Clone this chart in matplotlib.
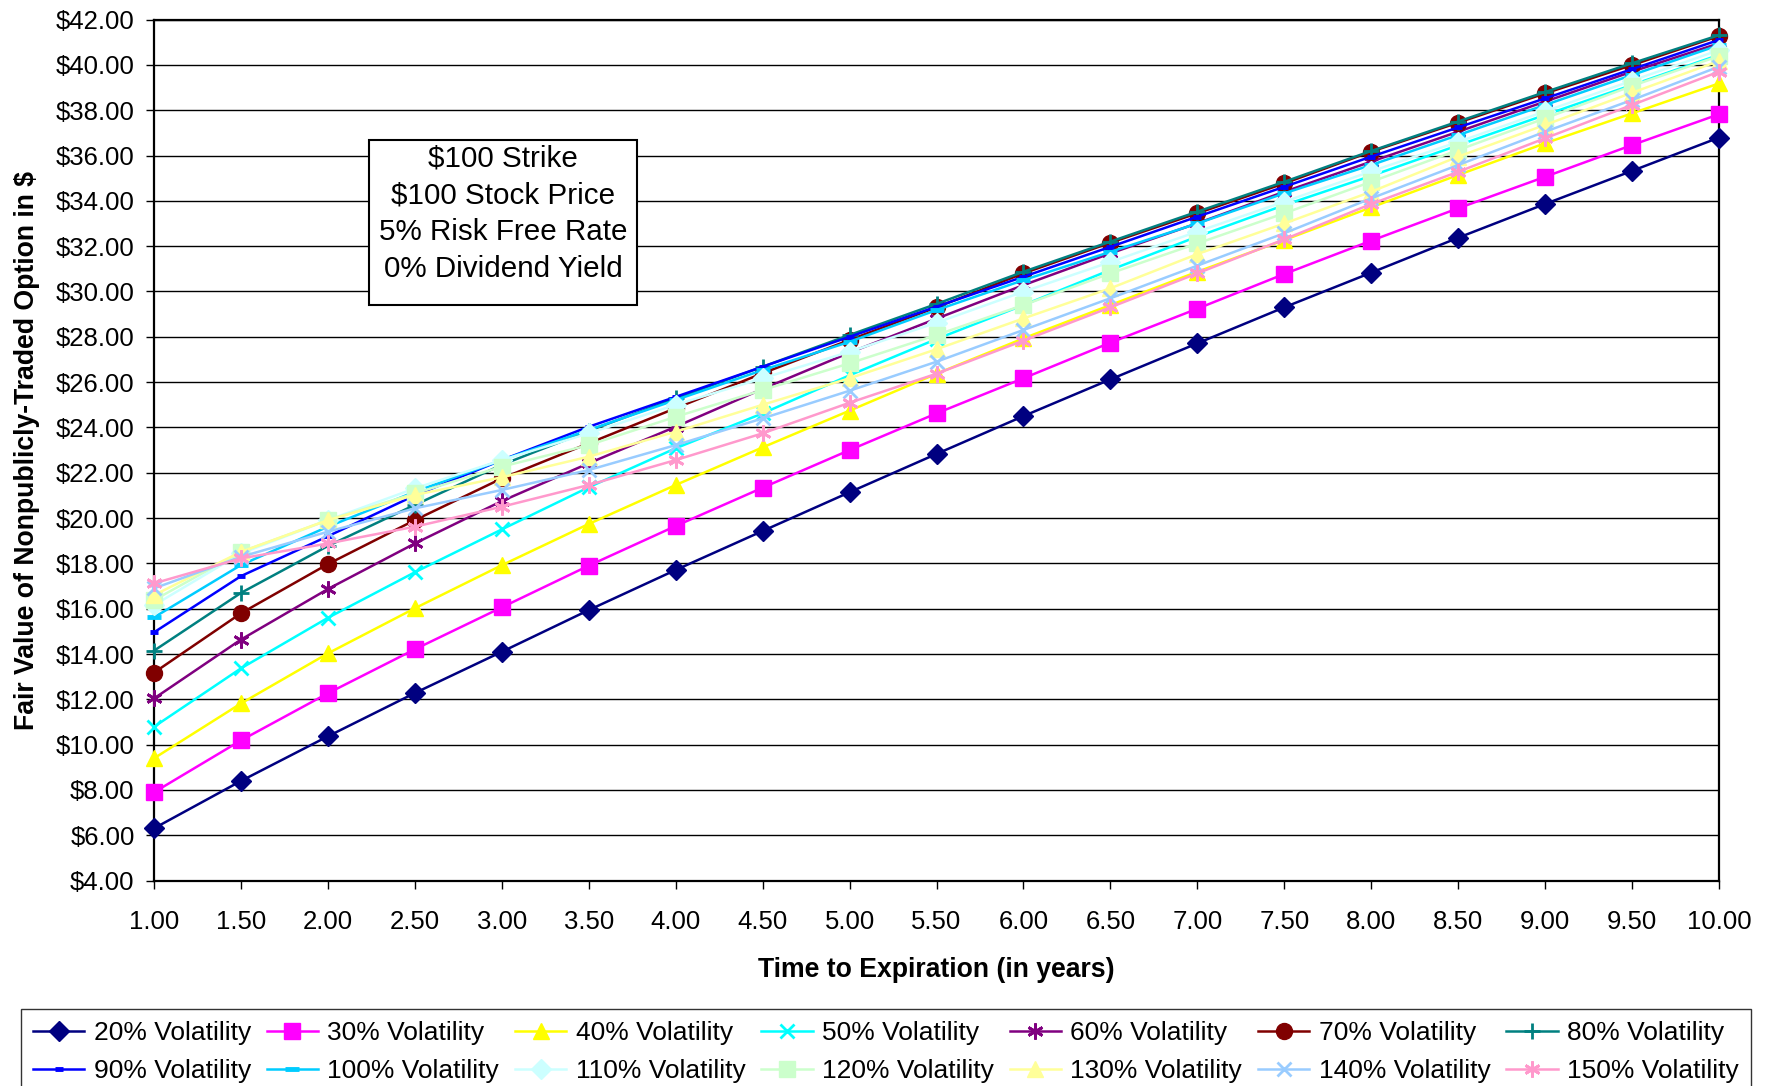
import matplotlib
matplotlib.use("Agg")
import matplotlib.pyplot as plt
from matplotlib.patches import Rectangle
from matplotlib.ticker import FuncFormatter

plt.rcParams['font.family'] = ['Liberation Sans', 'DejaVu Sans']

years = [1.0, 1.5, 2.0, 2.5, 3.0, 3.5, 4.0, 4.5, 5.0, 5.5,
         6.0, 6.5, 7.0, 7.5, 8.0, 8.5, 9.0, 9.5, 10.0]

vol20 = [6.31, 8.40, 10.37, 12.28, 14.10, 15.94, 17.71, 19.43, 21.14, 22.83,
         24.50, 26.12, 27.71, 29.30, 30.83, 32.37, 33.86, 35.32, 36.79]
vol30 = [7.90, 10.19, 12.27, 14.21, 16.06, 17.90, 19.65, 21.34, 23.00, 24.62,
         26.17, 27.74, 29.24, 30.77, 32.24, 33.67, 35.06, 36.46, 37.82]
vol40 = [9.40, 11.82, 14.03, 16.02, 17.92, 19.74, 21.46, 23.12, 24.74, 26.37,
         27.93, 29.40, 30.87, 32.27, 33.71, 35.14, 36.54, 37.86, 39.18]
vol50 = [10.79, 13.37, 15.60, 17.61, 19.50, 21.36, 23.08, 24.62, 26.30, 27.90,
         29.40, 30.95, 32.42, 33.81, 35.10, 36.45, 37.79, 39.11, 40.44]
vol60 = [12.04, 14.64, 16.87, 18.88, 20.75, 22.42, 24.03, 25.70, 27.30, 28.80,
         30.28, 31.68, 33.01, 34.40, 35.73, 37.05, 38.38, 39.70, 40.95]
vol70 = [13.18, 15.80, 17.97, 19.91, 21.75, 23.30, 24.85, 26.39, 27.86, 29.30,
         30.80, 32.15, 33.45, 34.77, 36.17, 37.45, 38.74, 39.99, 41.27]
vol80 = [14.15, 16.70, 18.77, 20.58, 22.35, 23.85, 25.28, 26.68, 28.08, 29.45,
         30.87, 32.20, 33.52, 34.84, 36.20, 37.50, 38.80, 40.07, 41.31]
vol90 = [14.96, 17.44, 19.20, 21.00, 22.56, 24.03, 25.35, 26.68, 28.00, 29.33,
         30.65, 31.97, 33.30, 34.62, 35.95, 37.24, 38.52, 39.81, 41.10]
vol100 = [15.62, 17.93, 19.62, 21.16, 22.56, 23.89, 25.21, 26.53, 27.78, 29.18,
          30.50, 31.75, 33.00, 34.33, 35.58, 36.90, 38.23, 39.55, 40.87]
vol110 = [16.16, 18.44, 19.91, 21.31, 22.56, 23.74, 25.00, 26.17, 27.34, 28.62,
          29.99, 31.30, 32.64, 33.96, 35.30, 36.60, 37.95, 39.30, 40.65]
vol120 = [16.38, 18.51, 19.91, 21.09, 22.27, 23.22, 24.47, 25.65, 26.83, 28.08,
          29.40, 30.80, 32.12, 33.45, 34.84, 36.24, 37.64, 39.07, 40.39]
vol130 = [16.60, 18.51, 19.91, 21.02, 21.80, 22.71, 23.81, 25.00, 26.17, 27.45,
          28.81, 30.14, 31.65, 33.00, 34.40, 35.95, 37.35, 38.77, 40.17]
vol140 = [16.90, 18.29, 19.40, 20.43, 21.24, 22.12, 23.22, 24.40, 25.62, 26.90,
          28.30, 29.70, 31.14, 32.57, 34.11, 35.58, 37.05, 38.45, 39.92]
vol150 = [17.12, 18.22, 18.88, 19.62, 20.50, 21.46, 22.56, 23.74, 25.09, 26.37,
          27.83, 29.30, 30.80, 32.30, 33.86, 35.28, 36.76, 38.23, 39.70]

labels = ["20% Volatility", "30% Volatility", "40% Volatility", "50% Volatility",
          "60% Volatility", "70% Volatility", "80% Volatility", "90% Volatility",
          "100% Volatility", "110% Volatility", "120% Volatility",
          "130% Volatility", "140% Volatility", "150% Volatility"]
series = [vol20, vol30, vol40, vol50, vol60, vol70, vol80, vol90,
          vol100, vol110, vol120, vol130, vol140, vol150]

notes = ["\\$100 Strike", "\\$100 Stock Price", "5% Risk Free Rate",
         "0% Dividend Yield"]

# excel-ish colour / marker per series
asterisk = (6, 2, 0)
styles = [
    dict(color="#000080", marker="D", ms=10.5),
    dict(color="#FF00FF", marker="s", ms=11),
    dict(color="#FFFF00", marker="^", ms=11.5),
    dict(color="#00FFFF", marker="x", ms=10.5, mew=2),
    dict(color="#800080", marker=asterisk, ms=11.5, mew=2),
    dict(color="#800000", marker="o", ms=11.5),
    dict(color="#008080", marker="+", ms=11.5, mew=2),
    dict(color="#0000FF", marker="_", ms=5.5, mew=3.5),
    dict(color="#00CCFF", marker="_", ms=9.5, mew=3.5),
    dict(color="#CCFFFF", marker="D", ms=10.5),
    dict(color="#CCFFCC", marker="s", ms=11),
    dict(color="#FFFF99", marker="^", ms=11.5),
    dict(color="#99CCFF", marker="x", ms=10.5, mew=2),
    dict(color="#FF99CC", marker=asterisk, ms=11.5, mew=2),
]

fig = plt.figure(figsize=(17.67, 10.86), dpi=100)
ax = fig.add_axes([0.0872, 0.1891, 0.8856, 0.7929])

handles = []
for vals, lab, st in zip(series, labels, styles):
    st = dict(st)
    c = st.pop("color")
    h, = ax.plot(years, vals, color=c, lw=1.8, mec=c, mfc=c, label=lab,
                 clip_on=False, zorder=3, **st)
    handles.append(h)

ax.set_xlim(1, 10)
ax.set_ylim(4, 42)
ax.set_xticks(years)
ax.set_yticks(range(4, 43, 2))
ax.xaxis.set_major_formatter(FuncFormatter(lambda v, p: "%.2f" % v))
ax.yaxis.set_major_formatter(FuncFormatter(lambda v, p: "$%.2f" % v))
ax.tick_params(axis="both", labelsize=18.5, length=6, width=1, direction="out")
ax.tick_params(axis="x", pad=15)
ax.tick_params(axis="y", pad=8)
ax.yaxis.grid(True, color="black", lw=1.0)
ax.set_axisbelow(True)
for sp in ax.spines.values():
    sp.set_linewidth(1.6)

ax.set_xlabel("Time to Expiration (in years)", fontsize=19.2, fontweight="bold",
              labelpad=17)
ax.set_ylabel("Fair Value of Nonpublicly-Traded Option in \\$", fontsize=19.2,
              fontweight="bold", labelpad=11)

# assumptions box
ax.add_patch(Rectangle((0.1374, 0.668), 0.1712, 0.192, transform=ax.transAxes,
                       facecolor="white", edgecolor="black", lw=1.5, zorder=5))
ax.text(0.2230, 0.7745, "\n".join(notes), transform=ax.transAxes,
        ha="center", va="center", fontsize=21.3, linespacing=1.4, zorder=6)

# legend rows: 20..80 on top, 90..150 below
order = []
for i in range(7):
    order += [handles[i], handles[i + 7]]
leg = fig.legend(order, [h.get_label() for h in order], ncol=7,
                 loc="upper left", bbox_to_anchor=(0.0119, 0.0709),
                 fontsize=19, frameon=True, fancybox=False, shadow=False,
                 handlelength=1.95, handletextpad=0.35, columnspacing=0.6,
                 labelspacing=0.55, borderpad=0.45, borderaxespad=0)
leg.get_frame().set_edgecolor("black")
leg.get_frame().set_linewidth(1.0)

fig.savefig("out.png", dpi=100)
